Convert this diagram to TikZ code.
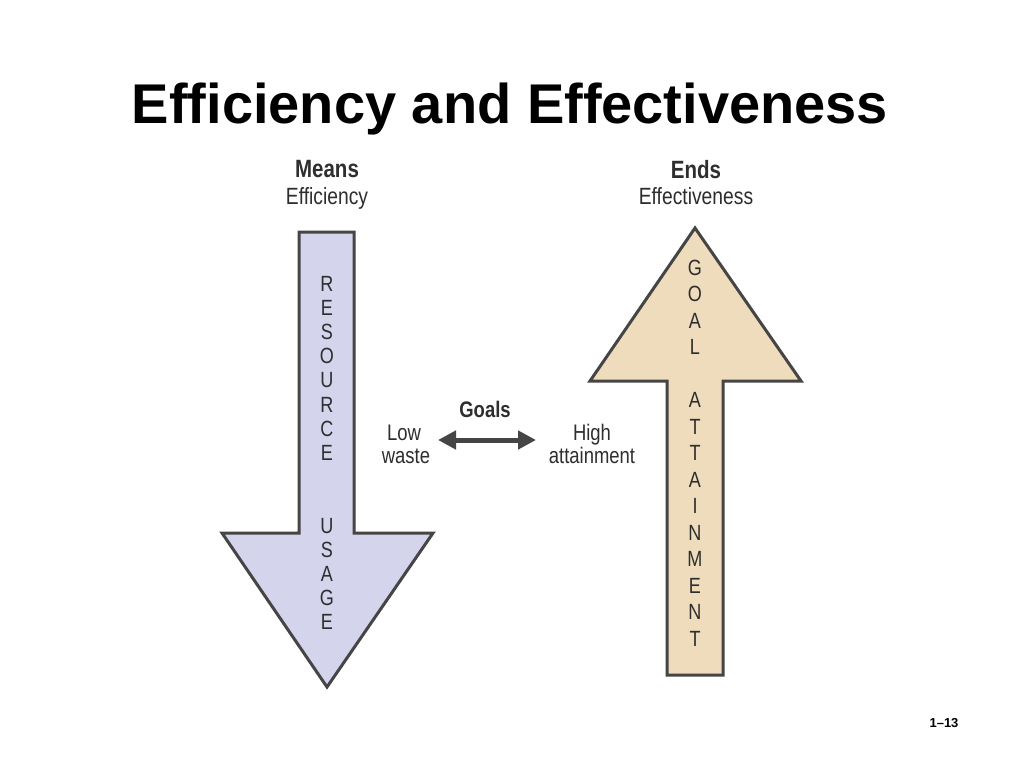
\documentclass[tikz,border=0pt]{standalone}
\usepackage{fontspec}
\setmainfont{Liberation Sans}
\newfontfamily\cond[FakeStretch=0.82]{Liberation Sans}
\usetikzlibrary{arrows.meta}
\definecolor{lav}{HTML}{D4D4EC}
\definecolor{tan}{HTML}{EEDCBC}
\definecolor{edge}{HTML}{454545}
\definecolor{txt}{HTML}{2E2E2E}
\tikzset{
  bigarrow/.style={draw=edge, line width=3pt, line join=miter},
  lbl/.style={anchor=base, inner sep=0pt, text=txt, font=\cond\fontsize{22.5}{24}\selectfont},
  head/.style={anchor=base, inner sep=0pt, text=txt, font=\cond\bfseries\fontsize{25}{26}\selectfont},
  sub/.style={anchor=base, inner sep=0pt, text=txt, font=\cond\fontsize{23.5}{26}\selectfont},
  letters/.style={inner sep=0pt, align=center, text=txt}
}
\begin{document}
\begin{tikzpicture}[x=1pt,y=-1pt]
\path[use as bounding box, fill=white] (0,0) rectangle (1024,768);
% title
\node[anchor=base, inner sep=0pt, font=\bfseries\fontsize{56}{60}\selectfont] (title) at (510,123) {Efficiency and Effectiveness};
% left arrow
\draw[bigarrow, fill=lav] (299,232) -- (354,232) -- (354,533) -- (433,533) -- (327,687) -- (222,533) -- (299,533) -- cycle;
% right arrow
\draw[bigarrow, fill=tan] (695,228) -- (801,381) -- (723,381) -- (723,675) -- (667,675) -- (667,381) -- (590,381) -- cycle;
% headings
\node[head] (means) at (327,177) {Means};
\node[sub] (eff) at (327,204) {Efficiency};
\node[head] (ends) at (696,178) {Ends};
\node[sub] (effv) at (696,204) {Effectiveness};
% letters
\node[letters, font=\cond\fontsize{22}{24.2}\selectfont] (ru) at (327,453) {R\\E\\S\\O\\U\\R\\C\\E\\\strut\\\strut\\U\\S\\A\\G\\E};
\node[letters, font=\cond\fontsize{22}{26.5}\selectfont] (ga) at (695,453) {G\\O\\A\\L\\\strut\\A\\T\\T\\A\\I\\N\\M\\E\\N\\T};
% goals
\node[head, font=\cond\bfseries\fontsize{22.5}{24}\selectfont] (goals) at (485,417) {Goals};
\node[lbl] (low) at (404,440) {Low};
\node[lbl] (waste) at (406,463) {waste};
\node[lbl] (high) at (592,440) {High};
\node[lbl] (att) at (592,463) {attainment};
\coordinate (la) at (438,440);
\coordinate (ra) at (536,440);
\draw[line width=5pt, draw=edge, {Triangle[length=18pt,width=18pt]}-{Triangle[length=18pt,width=18pt]}] (la) -- (ra);
% page number
\node[anchor=base, inner sep=0pt, font=\bfseries\fontsize{13}{15}\selectfont] (pg) at (944,727) {1--13};
\end{tikzpicture}
\end{document}
